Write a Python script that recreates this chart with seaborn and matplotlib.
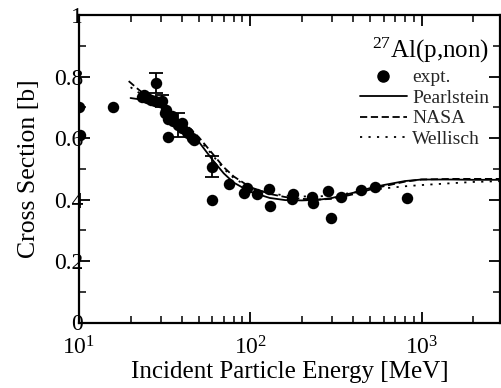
import numpy as np
import pandas as pd
import matplotlib
matplotlib.use("Agg")
import matplotlib.pyplot as plt
from matplotlib.lines import Line2D
from matplotlib.ticker import LogLocator, MultipleLocator, FixedLocator, FuncFormatter
import seaborn as sns

# ---- experimental data ----
expt_E = [10, 10.1, 15.9, 23.3, 23.8, 24.8, 26.5, 27.6, 28.0, 29.7, 30.6, 31.8, 32.2,
          32.9, 33.3, 34.7, 35.5, 37.9, 39.7, 40.2, 42.5, 43.5, 45.4, 46.9,
          59.5, 59.5, 75.5, 92, 96, 108.8, 129, 131, 176, 178, 228, 232, 284,
          295, 340, 443, 534, 818]
expt_sig = [0.702, 0.61, 0.702, 0.733, 0.74, 0.729, 0.724, 0.72, 0.779, 0.718, 0.72, 0.68, 0.69,
            0.603, 0.663, 0.67, 0.654, 0.642, 0.648, 0.631, 0.62, 0.615, 0.60, 0.595,
            0.507, 0.397, 0.45, 0.42, 0.436, 0.418, 0.433, 0.38, 0.401, 0.418, 0.408, 0.39, 0.427,
            0.341, 0.408, 0.432, 0.441, 0.406]

# points with error bars
err_E = [28.0, 30.6, 37.9, 59.5]
err_sig = [0.779, 0.72, 0.642, 0.507]
err_val = [0.034, 0.02, 0.04, 0.035]

# ---- model curves ----
pear_E = [20, 25, 30, 40, 50, 60, 70, 80, 100, 130, 160, 200, 250, 300, 400, 500, 600, 800,
          1000, 1500, 2000, 3000]
pear_sig = [0.73, 0.722, 0.70, 0.635, 0.588, 0.53, 0.485, 0.455, 0.425, 0.405, 0.398, 0.397,
            0.399, 0.405, 0.422, 0.437, 0.447, 0.46, 0.465, 0.465, 0.464, 0.464]

nasa_E = [19.5, 22, 25, 30, 40, 50, 60, 70, 80, 100, 130, 160, 200, 250, 300, 400, 500, 600,
          800, 1000, 1500, 2000, 3000]
nasa_sig = [0.785, 0.76, 0.735, 0.71, 0.655, 0.603, 0.55, 0.505, 0.475, 0.44, 0.418, 0.408,
            0.402, 0.400, 0.402, 0.417, 0.432, 0.443, 0.458, 0.465, 0.467, 0.467, 0.467]

well_E = [20, 22, 25, 30, 40, 50, 60, 70, 80, 100, 130, 160, 200, 250, 300, 400, 500, 600,
          800, 1000, 1500, 2000, 3000]
well_sig = [0.765, 0.75, 0.73, 0.705, 0.648, 0.597, 0.545, 0.50, 0.47, 0.437, 0.42, 0.413,
            0.41, 0.41, 0.413, 0.422, 0.43, 0.436, 0.443, 0.447, 0.453, 0.457, 0.46]

y_ticks = [0, 0.2, 0.4, 0.6, 0.8, 1]
y_tick_labels = ["0", "0.2", "0.4", "0.6", "0.8", "1"]
x_ticks = [10, 100, 1000]
x_tick_labels = [r"$\mathregular{10^1}$", r"$\mathregular{10^2}$", r"$\mathregular{10^3}$"]

sns.set_theme(style="ticks")
plt.rcParams['font.family'] = ['Liberation Serif', 'DejaVu Serif']
plt.rcParams['mathtext.fontset'] = 'custom'
plt.rcParams['mathtext.rm'] = 'Liberation Serif'

fig = plt.figure(figsize=(5.02, 3.88), dpi=100)
ax = fig.add_axes([79/502, 1-322.5/388, 421/502, 307.5/388])

expt_df = pd.DataFrame({"E": expt_E, "sig": expt_sig})
sns.scatterplot(data=expt_df, x="E", y="sig", ax=ax, color="black", s=68,
                edgecolor="black", linewidth=0, zorder=5, legend=False)
ax.errorbar(err_E, err_sig, yerr=err_val, fmt="none", ecolor="black",
            elinewidth=1.3, capsize=5, capthick=1.3, zorder=4)

curves = pd.concat([
    pd.DataFrame({"E": pear_E, "sig": pear_sig, "model": "Pearlstein"}),
    pd.DataFrame({"E": nasa_E, "sig": nasa_sig, "model": "NASA"}),
    pd.DataFrame({"E": well_E, "sig": well_sig, "model": "Wellisch"}),
])
for name, ls in [("Pearlstein", "-"), ("NASA", (0, (4, 2))), ("Wellisch", (0, (1.2, 3.5)))]:
    sub = curves[curves.model == name]
    sns.lineplot(data=sub, x="E", y="sig", ax=ax, color="black", linewidth=1.3,
                 linestyle=ls, estimator=None, sort=True, legend=False)

ax.set_xscale("log")
ax.set_xlim(10, 2870)
ax.set_ylim(0, 1)
ax.xaxis.set_major_locator(FixedLocator(x_ticks))
ax.set_xticklabels(x_tick_labels)
ax.xaxis.set_minor_locator(LogLocator(base=10, subs=np.arange(2, 10)))
ax.xaxis.set_minor_formatter(FuncFormatter(lambda v, p: ""))
ax.set_yticks(y_ticks)
ax.set_yticklabels(y_tick_labels)
ax.yaxis.set_minor_locator(MultipleLocator(0.1))

ax.tick_params(which="both", direction="in", top=True, right=True, color="black")
ax.tick_params(which="major", length=8, width=1.3, labelsize=17)
ax.tick_params(which="minor", length=5, width=1.1)
ax.tick_params(axis="y", which="major", pad=-3)
ax.tick_params(axis="x", which="major", pad=10)
for sp in ax.spines.values():
    sp.set_linewidth(1.6)
    sp.set_color("black")

ax.set_xlabel("Incident Particle Energy [MeV]", fontsize=18, labelpad=1, color="black")
ax.set_ylabel("Cross Section [b]", fontsize=18.5, labelpad=10, color="black")
for lab in ax.get_xticklabels() + ax.get_yticklabels():
    lab.set_color("black")

ax.text(0.975, 0.886, r"$\mathregular{^{27}}$Al(p,non)", transform=ax.transAxes,
        ha="right", va="center", fontsize=18, color="black")

handles = [
    Line2D([], [], marker="o", color="black", linestyle="none", markersize=8),
    Line2D([], [], color="black", linestyle="-", linewidth=1.3),
    Line2D([], [], color="black", linestyle=(0, (4, 2)), linewidth=1.3),
    Line2D([], [], color="black", linestyle=(0, (1.2, 3.5)), linewidth=1.3),
]
leg = ax.legend(handles, ["expt.", "Pearlstein", "NASA", "Wellisch"], loc="upper right",
                bbox_to_anchor=(0.975, 0.825), frameon=False, fontsize=14,
                handlelength=2.4, handletextpad=0.3, labelspacing=0.15, borderpad=0,
                borderaxespad=0)

fig.savefig("out.png", dpi=100)
